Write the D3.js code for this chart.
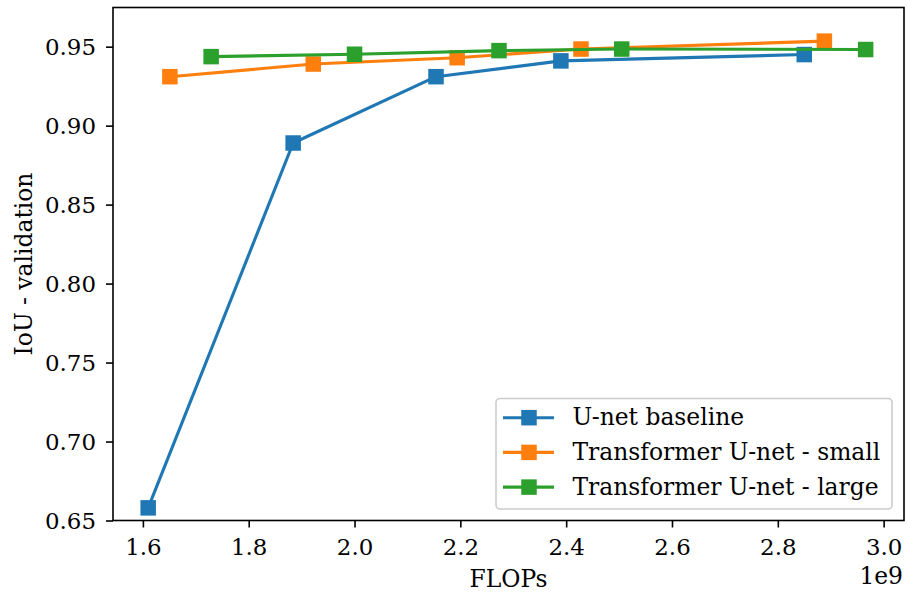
<!DOCTYPE html>
<html><head><meta charset="utf-8">
<script src="https://cdn.jsdelivr.net/npm/d3@7"></script>
<style>body{margin:0;background:#fff}svg{display:block}</style>
</head><body>
<svg id="c" width="907" height="594"></svg>
<script>
const seriesNames = ["U-net baseline", "Transformer U-net - small", "Transformer U-net - large"];
const colors = ["#1f77b4", "#ff7f0e", "#2ca02c"];
const unetX = [1.61, 1.884, 2.154, 2.39, 2.85];
const unetY = [0.658, 0.889, 0.931, 0.941, 0.945];
const smallX = [1.651, 1.922, 2.194, 2.428, 2.888];
const smallY = [0.931, 0.939, 0.943, 0.9485, 0.9535];
const largeX = [1.729, 2.0, 2.273, 2.505, 2.966];
const largeY = [0.9437, 0.9452, 0.9475, 0.9485, 0.9482];
const xTicks = [1.6, 1.8, 2.0, 2.2, 2.4, 2.6, 2.8, 3.0];
const yTicks = [0.65, 0.70, 0.75, 0.80, 0.85, 0.90, 0.95];

const FONT = '"DejaVu Serif", serif';
const series = [[unetX, unetY], [smallX, smallY], [largeX, largeY]];
const L = 113, R = 904, T = 7.5, B = 520.5;
const svg = d3.select("#c");
const x = d3.scaleLinear().domain([1.5435, 3.0385]).range([L, R]);
const y = d3.scaleLinear().domain([0.65, 0.9748]).range([B, T]);

const fsTick = 22.9, fs = 23.4;
const xAxis = d3.axisBottom(x).tickValues(xTicks).tickFormat(d3.format(".1f")).tickSize(7);
const gx = svg.append("g").attr("transform", `translate(0,${B})`).call(xAxis);
const yAxis = d3.axisLeft(y).tickValues(yTicks).tickFormat(d3.format(".2f")).tickSize(7).tickPadding(10);
const gy = svg.append("g").attr("transform", `translate(${L},0)`).call(yAxis);
[gx, gy].forEach(g => {
  g.attr("font-family", FONT).attr("font-size", fsTick);
  g.select(".domain").remove();
  g.selectAll(".tick line").attr("stroke", "#000").attr("stroke-width", 1.6);
  g.selectAll(".tick text").style("font-family", FONT).style("font-size", fsTick + "px").attr("fill", "#000");
});
gx.selectAll(".tick text").attr("y", 34.5).attr("dy", 0);
gy.selectAll(".tick text").attr("dy", "0.36em");

const line = d3.line().x(d => x(d[0])).y(d => y(d[1]));
const ms = 15.5;
series.forEach((s, i) => {
  const pts = s[0].map((v, j) => [v, s[1][j]]);
  svg.append("path").datum(pts).attr("d", line).attr("fill", "none")
    .attr("stroke", colors[i]).attr("stroke-width", 3.1).attr("stroke-linejoin", "round");
  svg.append("g").selectAll("rect").data(pts).join("rect")
    .attr("x", d => x(d[0]) - ms / 2).attr("y", d => y(d[1]) - ms / 2)
    .attr("width", ms).attr("height", ms).attr("fill", colors[i]);
});

svg.append("rect").attr("x", L).attr("y", T).attr("width", R - L).attr("height", B - T)
  .attr("fill", "none").attr("stroke", "#000").attr("stroke-width", 1.6);

function txt(sel) { return sel.style("font-family", FONT).style("font-size", fs + "px").attr("fill", "#000"); }

// legend
const lg = svg.append("g");
lg.append("rect").attr("x", 496).attr("y", 398.5).attr("width", 396).attr("height", 110.5)
  .attr("rx", 4).attr("fill", "#fff").attr("fill-opacity", 0.8).attr("stroke", "#ccc").attr("stroke-width", 1.6);
seriesNames.forEach((n, i) => {
  const yy = 417.7 + i * 34.7;
  lg.append("line").attr("x1", 503).attr("x2", 554).attr("y1", yy).attr("y2", yy)
    .attr("stroke", colors[i]).attr("stroke-width", 3.1);
  lg.append("rect").attr("x", 529 - ms / 2).attr("y", yy - ms / 2).attr("width", ms).attr("height", ms).attr("fill", colors[i]);
  txt(lg.append("text").attr("x", 572.5).attr("y", yy).attr("dy", "0.32em")).text(n);
});

txt(svg.append("text").attr("x", (L + R) / 2).attr("y", 587).attr("text-anchor", "middle")).text("FLOPs");
txt(svg.append("text").attr("transform", `translate(32,${(T + B) / 2}) rotate(-90)`).attr("text-anchor", "middle")).text("IoU - validation");
txt(svg.append("text").attr("x", 903).attr("y", 584).attr("text-anchor", "end")).text("1e9");
</script>
</body></html>
